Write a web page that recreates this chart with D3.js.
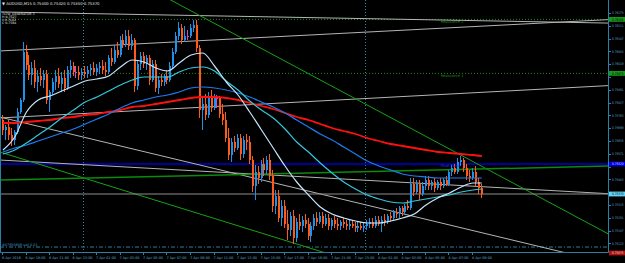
<!DOCTYPE html>
<html lang="en">
<head>
<meta charset="UTF-8">
<title>AUDUSD,M15</title>
<script src="https://cdn.jsdelivr.net/npm/d3@7"></script>
<style>
    * { margin:0; padding:0; }
    body { background:#000; }
    svg { display:block; }
    text { font-family: "DejaVu Sans", sans-serif; }
</style>
</head>
<body>
<script>
    // M15 bars, bar 0 = 6 Apr 2016 17:00
    var open = [
        0.75740,0.75690,0.75705,0.75665,0.75640,0.75680,0.75780,0.75840,0.76080,0.76015,
        0.75965,0.76000,0.75930,0.75960,0.75940,0.75970,0.75840,0.75880,0.75930,0.75960,
        0.75920,0.75950,0.75900,0.75990,0.76010,0.75980,0.75980,0.75965,0.75980,0.75970,
        0.75990,0.76000,0.75980,0.76000,0.76010,0.75990,0.75980,0.76050,0.76030,0.76090,
        0.76065,0.76140,0.76115,0.76160,0.76110,0.76140,0.75910,0.76020,0.76060,0.76020,
        0.76050,0.75940,0.76020,0.75900,0.75940,0.75930,0.75960,0.75940,0.76010,0.76080,
        0.76160,0.76200,0.76140,0.76160,0.76160,0.76200,0.76215,0.76100,0.75790,0.75820,
        0.75765,0.75860,0.75800,0.75850,0.75850,0.75770,0.75740,0.75650,0.75565,0.75630,
        0.75600,0.75650,0.75570,0.75640,0.75630,0.75540,0.75410,0.75480,0.75450,0.75520,
        0.75490,0.75540,0.75460,0.75310,0.75360,0.75250,0.75310,0.75220,0.75190,0.75260,
        0.75150,0.75230,0.75210,0.75240,0.75220,0.75160,0.75210,0.75250,0.75230,0.75260,
        0.75220,0.75250,0.75210,0.75240,0.75220,0.75210,0.75230,0.75220,0.75210,0.75220,
        0.75210,0.75200,0.75210,0.75200,0.75210,0.75220,0.75230,0.75210,0.75240,0.75220,
        0.75240,0.75230,0.75260,0.75250,0.75280,0.75270,0.75300,0.75280,0.75310,0.75300,
        0.75420,0.75380,0.75420,0.75370,0.75410,0.75440,0.75410,0.75430,0.75400,0.75430,
        0.75410,0.75440,0.75420,0.75480,0.75500,0.75480,0.75530,0.75540,0.75500,0.75460,
        0.75450,0.75480,0.75430,0.75400];
    var high = [
        0.75765,0.75715,0.75740,0.75700,0.75690,0.75800,0.75850,0.76130,0.76115,0.76065,
        0.76030,0.76040,0.75990,0.76000,0.75990,0.75990,0.75890,0.75950,0.75990,0.76000,
        0.75980,0.75990,0.76010,0.76040,0.76030,0.76010,0.76010,0.76000,0.76010,0.76010,
        0.76020,0.76030,0.76020,0.76030,0.76040,0.76030,0.76065,0.76100,0.76115,0.76130,
        0.76160,0.76170,0.76190,0.76190,0.76170,0.76150,0.76040,0.76080,0.76080,0.76065,
        0.76065,0.76040,0.76040,0.75960,0.75970,0.75970,0.75990,0.76030,0.76100,0.76180,
        0.76230,0.76220,0.76210,0.76190,0.76220,0.76240,0.76240,0.76115,0.75860,0.75870,
        0.75880,0.75890,0.75870,0.75865,0.75860,0.75820,0.75780,0.75700,0.75650,0.75660,
        0.75670,0.75670,0.75660,0.75670,0.75660,0.75560,0.75515,0.75510,0.75540,0.75550,
        0.75560,0.75570,0.75490,0.75390,0.75390,0.75340,0.75340,0.75290,0.75280,0.75290,
        0.75250,0.75270,0.75260,0.75270,0.75250,0.75230,0.75270,0.75280,0.75280,0.75280,
        0.75270,0.75270,0.75250,0.75260,0.75250,0.75240,0.75250,0.75240,0.75240,0.75240,
        0.75230,0.75230,0.75230,0.75230,0.75240,0.75250,0.75250,0.75260,0.75260,0.75260,
        0.75270,0.75270,0.75280,0.75290,0.75300,0.75310,0.75310,0.75320,0.75340,0.75450,
        0.75450,0.75440,0.75440,0.75430,0.75460,0.75460,0.75440,0.75450,0.75440,0.75450,
        0.75450,0.75460,0.75490,0.75515,0.75520,0.75550,0.75560,0.75550,0.75520,0.75490,
        0.75500,0.75510,0.75450,0.75420];
    var low = [
        0.75665,0.75640,0.75640,0.75610,0.75615,0.75670,0.75770,0.75830,0.75990,0.75940,
        0.75915,0.75900,0.75880,0.75910,0.75900,0.75820,0.75780,0.75865,0.75890,0.75900,
        0.75880,0.75880,0.75890,0.75950,0.75960,0.75950,0.75940,0.75940,0.75950,0.75950,
        0.75960,0.75965,0.75960,0.75970,0.75970,0.75960,0.75970,0.76010,0.76020,0.76050,
        0.76055,0.76100,0.76105,0.76090,0.76090,0.75880,0.75890,0.75990,0.76000,0.75990,
        0.75915,0.75930,0.75880,0.75870,0.75910,0.75910,0.75920,0.75930,0.76000,0.76070,
        0.76140,0.76120,0.76130,0.76140,0.76150,0.76180,0.76080,0.75750,0.75690,0.75740,
        0.75750,0.75780,0.75790,0.75800,0.75750,0.75715,0.75630,0.75540,0.75530,0.75580,
        0.75590,0.75540,0.75550,0.75590,0.75520,0.75380,0.75340,0.75420,0.75430,0.75460,
        0.75470,0.75440,0.75280,0.75270,0.75230,0.75210,0.75200,0.75140,0.75160,0.75120,
        0.75130,0.75190,0.75180,0.75200,0.75140,0.75130,0.75190,0.75210,0.75220,0.75200,
        0.75210,0.75190,0.75190,0.75200,0.75190,0.75190,0.75200,0.75190,0.75190,0.75200,
        0.75180,0.75180,0.75190,0.75180,0.75190,0.75200,0.75200,0.75200,0.75210,0.75180,
        0.75210,0.75220,0.75230,0.75240,0.75250,0.75250,0.75260,0.75270,0.75290,0.75290,
        0.75360,0.75370,0.75340,0.75360,0.75390,0.75390,0.75390,0.75380,0.75390,0.75390,
        0.75400,0.75410,0.75410,0.75460,0.75470,0.75470,0.75510,0.75480,0.75440,0.75430,
        0.75440,0.75410,0.75370,0.75350];
    var close = [
        0.75690,0.75705,0.75665,0.75640,0.75680,0.75780,0.75840,0.76080,0.76015,0.75965,
        0.76000,0.75930,0.75960,0.75940,0.75970,0.75840,0.75880,0.75930,0.75960,0.75920,
        0.75950,0.75900,0.75990,0.76010,0.75980,0.75980,0.75965,0.75980,0.75970,0.75990,
        0.76000,0.75980,0.76000,0.76010,0.75990,0.75980,0.76050,0.76030,0.76090,0.76065,
        0.76140,0.76115,0.76160,0.76110,0.76140,0.75910,0.76020,0.76060,0.76020,0.76050,
        0.75940,0.76020,0.75900,0.75940,0.75930,0.75960,0.75940,0.76010,0.76080,0.76160,
        0.76200,0.76140,0.76160,0.76160,0.76200,0.76215,0.76100,0.75790,0.75820,0.75765,
        0.75860,0.75800,0.75850,0.75850,0.75770,0.75740,0.75650,0.75565,0.75630,0.75600,
        0.75650,0.75570,0.75640,0.75630,0.75540,0.75410,0.75480,0.75450,0.75520,0.75490,
        0.75540,0.75460,0.75310,0.75360,0.75250,0.75310,0.75220,0.75190,0.75260,0.75150,
        0.75230,0.75210,0.75240,0.75220,0.75160,0.75210,0.75250,0.75230,0.75260,0.75220,
        0.75250,0.75210,0.75240,0.75220,0.75210,0.75230,0.75220,0.75210,0.75220,0.75210,
        0.75200,0.75210,0.75200,0.75210,0.75220,0.75230,0.75210,0.75240,0.75220,0.75240,
        0.75230,0.75260,0.75250,0.75280,0.75270,0.75300,0.75280,0.75310,0.75300,0.75420,
        0.75380,0.75420,0.75370,0.75410,0.75440,0.75410,0.75430,0.75400,0.75430,0.75410,
        0.75440,0.75420,0.75480,0.75500,0.75480,0.75530,0.75540,0.75500,0.75460,0.75450,
        0.75480,0.75430,0.75400,0.75370];

    // moving averages, read every 4th bar (0,4,...,160) plus the last bar
    var maBars = [0,4,8,12,16,20,24,28,32,36,40,44,48,52,56,60,64,68,72,76,80,84,88,92,96,100,
                  104,108,112,116,120,124,128,132,136,140,144,148,152,156,160,163];
    var maFast = [0.75590,0.75655,0.75780,0.75840,0.75860,0.75885,0.75910,0.75935,0.75945,0.75960,
                  0.76005,0.76040,0.76030,0.76000,0.75985,0.76025,0.76065,0.76075,0.76010,0.75930,
                  0.75865,0.75780,0.75690,0.75600,0.75510,0.75430,0.75365,0.75305,0.75270,0.75250,
                  0.75235,0.75225,0.75225,0.75235,0.75250,0.75270,0.75315,0.75350,0.75375,0.75405,
                  0.75425,0.75425];
    var maMid = [0.75570,0.75590,0.75625,0.75665,0.75705,0.75750,0.75790,0.75830,0.75855,0.75885,
                 0.75915,0.75940,0.75955,0.75955,0.75955,0.75980,0.76000,0.76005,0.75985,0.75935,
                 0.75890,0.75835,0.75790,0.75750,0.75695,0.75630,0.75580,0.75525,0.75475,0.75430,
                 0.75395,0.75365,0.75345,0.75330,0.75325,0.75335,0.75345,0.75355,0.75365,0.75380,
                 0.75390,0.75395];
    var maSlow = [0.75580,0.75600,0.75615,0.75635,0.75655,0.75675,0.75695,0.75720,0.75745,0.75770,
                  0.75800,0.75825,0.75840,0.75855,0.75865,0.75880,0.75900,0.75905,0.75900,0.75890,
                  0.75875,0.75855,0.75830,0.75805,0.75775,0.75740,0.75705,0.75670,0.75640,0.75605,
                  0.75570,0.75535,0.75510,0.75490,0.75470,0.75460,0.75455,0.75450,0.75450,0.75450,
                  0.75450,0.75450];
    var maLong = [0.75725,0.75725,0.75730,0.75735,0.75740,0.75750,0.75755,0.75765,0.75770,0.75780,
                  0.75790,0.75805,0.75810,0.75820,0.75830,0.75840,0.75850,0.75855,0.75855,0.75850,
                  0.75840,0.75825,0.75810,0.75795,0.75775,0.75755,0.75740,0.75720,0.75700,0.75685,
                  0.75670,0.75650,0.75635,0.75620,0.75610,0.75600,0.75590,0.75580,0.75575,0.75570,
                  0.75565,0.75560];

    // trend lines: [bar1, price1, bar2, price2]
    var greyLines = [
        [0,0.76086,160,0.76207],
        [0,0.76280,160,0.76237],
        [0,0.75751,160,0.75876],
        [0,0.75751,160,0.75187],
        [0,0.75539,160,0.75409]];
    var greenLines = [
        [60,0.76317,160,0.75532],
        [0,0.75575,100,0.75120]];
    var supportLine = [0,0.75440,160,0.75494];

    var levelNames = ["Resistance 2","Resistance 1","Pivot Point"];
    var levelPrices = [0.76243,0.75973,0.75520];
    var orderPrice = 0.75105, stopPrice = 0.75075;
    var orderText = "#47950646 sell 0.01";

    var priceTicks = [0.76275,0.76211,0.76147,0.76083,0.76019,0.75955,0.75891,0.75827,0.75763,0.75699,
                      0.75635,0.75571,0.75507,0.75443,0.75379,0.75315,0.75251,0.75187,0.75123];
    var timeLabels = ["6 Apr 2016","6 Apr 19:00","6 Apr 21:00","6 Apr 23:00","7 Apr 01:00","7 Apr 03:00",
                      "7 Apr 05:00","7 Apr 07:00","7 Apr 09:00","7 Apr 11:00","7 Apr 13:00","7 Apr 15:00",
                      "7 Apr 17:00","7 Apr 19:00","7 Apr 21:00","7 Apr 23:00","8 Apr 01:00","8 Apr 03:00",
                      "8 Apr 05:00","8 Apr 07:00","8 Apr 09:00"];
    var labelEvery = 8;
    var dayStarts = [28,124];

    var W = 625, H = 263, plotR = 608, plotB = 252;
    var fmt = d3.format(".5f");

    var x = d3.scaleLinear().domain([0,160]).range([3,473]);
    var y = d3.scaleLinear().domain([0.76340,0.74990]).range([0,270]);

    var svg = d3.select("body").append("svg")
        .attr("width", W).attr("height", H)
        .style("background", "#000");

    svg.append("defs").append("clipPath").attr("id","plot")
        .append("rect").attr("x",0).attr("y",0).attr("width",plotR).attr("height",plotB);

    var g = svg.append("g").attr("clip-path","url(#plot)");

    // day separators
    g.selectAll("line.sep").data(dayStarts).enter().append("line")
        .attr("x1", function(d){return Math.round(x(d)) - 1.5})
        .attr("x2", function(d){return Math.round(x(d)) - 1.5})
        .attr("y1", 0).attr("y2", plotB)
        .attr("stroke", "#2a84a8").attr("stroke-dasharray", "1,2")

    // horizontal levels
    g.selectAll("line.lvl").data(levelPrices).enter().append("line")
        .attr("x1", 0).attr("x2", plotR)
        .attr("y1", function(d){return y(d)}).attr("y2", function(d){return y(d)})
        .attr("stroke", function(d,i){return i < 2 ? "#178c17" : "#0000d2"})
        .attr("stroke-width", function(d,i){return i < 2 ? 1 : 1.6})
        .attr("stroke-dasharray", function(d,i){return i < 2 ? "1,2" : null})

    g.append("line")
        .attr("x1", 0).attr("x2", plotR)
        .attr("y1", y(orderPrice)).attr("y2", y(orderPrice))
        .attr("stroke", "#2a7f9f").attr("stroke-dasharray", "4,2,1,2")

    // trend lines, extended over the whole chart
    function extend(t) {
        var slope = (t[3] - t[1]) / (t[2] - t[0]);
        return [[-5, t[1] + slope * (-5 - t[0])], [215, t[1] + slope * (215 - t[0])]];
    }
    var seg = d3.line().x(function(d){return x(d[0])}).y(function(d){return y(d[1])});

    g.selectAll("path.grey").data(greyLines).enter().append("path")
        .attr("d", function(d){return seg(extend(d))})
        .attr("fill", "none").attr("stroke", "#b4b4b4").attr("stroke-width", 1)
    g.selectAll("path.green").data(greenLines).enter().append("path")
        .attr("d", function(d){return seg(extend(d))})
        .attr("fill", "none").attr("stroke", "#16a316").attr("stroke-width", 1)
    g.append("path")
        .attr("d", seg(extend(supportLine)))
        .attr("fill", "none").attr("stroke", "#0b8a0b").attr("stroke-width", 1.5)

    // bid line
    g.append("line")
        .attr("x1", 0).attr("x2", plotR)
        .attr("y1", y(close[close.length-1])).attr("y2", y(close[close.length-1]))
        .attr("stroke", "#8e8e8e")

    // candles
    var bars = open.map(function(o, i) {
        return {i: i, o: o, h: high[i], l: low[i], c: close[i]};
    });
    function barColor(d) {
        if (d.c > d.o) return "#1e92ea";
        if (d.c < d.o) return "#ff5a18";
        return "#d048d0";
    }
    var cg = g.append("g");
    cg.selectAll("line.wick").data(bars).enter().append("line")
        .attr("x1", function(d){return Math.round(x(d.i)) - 0.5})
        .attr("x2", function(d){return Math.round(x(d.i)) - 0.5})
        .attr("y1", function(d){return y(d.h)})
        .attr("y2", function(d){return y(d.l)})
        .attr("stroke", barColor)
    cg.selectAll("rect.body").data(bars).enter().append("rect")
        .attr("x", function(d){return Math.round(x(d.i)) - 1})
        .attr("width", 2)
        .attr("y", function(d){return y(Math.max(d.o, d.c))})
        .attr("height", function(d){return Math.max(1, Math.abs(y(d.o) - y(d.c)))})
        .attr("fill", barColor)

    // moving averages
    var maLine = d3.line()
        .x(function(d, i){return x(maBars[i])})
        .y(function(d){return y(d)})
        .curve(d3.curveMonotoneX);
    [[maLong, "#ff1010", 1.8], [maSlow, "#1e7cf2", 1.2], [maMid, "#34c8dc", 1.2], [maFast, "#c4e6ff", 1.2]]
        .forEach(function(m) {
            g.append("path").attr("d", maLine(m[0]))
                .attr("fill", "none").attr("stroke", m[1]).attr("stroke-width", m[2])
        });

    // level captions
    g.selectAll("text.lvl").data(levelNames).enter().append("text")
        .attr("x", x(149))
        .attr("y", function(d,i){return y(levelPrices[i]) + (i < 2 ? 4 : 2.5)})
        .attr("font-size", 3.6)
        .attr("fill", function(d,i){return i < 2 ? "#1c8c1c" : "#1a3cff"})
        .text(function(d){return d})

    g.append("text").attr("x", 2).attr("y", y(orderPrice) - 1.5)
        .attr("font-size", 3.4).attr("fill", "#3a9cc0").text(orderText)

    // frame
    svg.append("path")
        .attr("d", "M0.5,0V" + (plotB + 0.5) + "H" + (plotR + 0.5) + "V0")
        .attr("fill", "none").attr("stroke", "#2a80a6")

    // highlighted prices on the axis
    var marks = [
        [levelPrices[0], "#18981a", "#000"],
        [levelPrices[1], "#18981a", "#000"],
        [levelPrices[2], "#0000e6", "#dde"],
        [close[close.length-1], "#62d4f4", "#000"],
        [stopPrice, "#b01212", "#ddd"]];

    // price axis (labels hidden under a highlighted price are skipped)
    var freeTicks = priceTicks.filter(function(p) {
        return marks.every(function(m){return Math.abs(y(m[0]) - y(p)) > 4.6});
    });
    svg.selectAll("line.pt").data(priceTicks).enter().append("line")
        .attr("x1", plotR + 0.5).attr("x2", plotR + 3)
        .attr("y1", function(d){return Math.round(y(d)) + 0.5})
        .attr("y2", function(d){return Math.round(y(d)) + 0.5})
        .attr("stroke", "#2a80a6")
    svg.selectAll("text.pt").data(freeTicks).enter().append("text")
        .attr("x", plotR + 4).attr("y", function(d){return y(d) + 1.2})
        .attr("font-size", 3.4).attr("fill", "#5aaad2")
        .attr("textLength", 11.5).attr("lengthAdjust", "spacingAndGlyphs")
        .text(function(d){return fmt(d)})

    marks.forEach(function(m) {
        svg.append("rect").attr("x", plotR + 1).attr("y", y(m[0]) - 2.4)
            .attr("width", W - plotR - 1).attr("height", 4.8).attr("fill", m[1])
        svg.append("text").attr("x", plotR + 4).attr("y", y(m[0]) + 1.2)
            .attr("font-size", 3.4).attr("fill", m[2])
            .attr("textLength", 11.5).attr("lengthAdjust", "spacingAndGlyphs")
            .text(fmt(m[0]))
    });

    // time axis
    svg.selectAll("line.tt").data(timeLabels).enter().append("line")
        .attr("x1", function(d,i){return Math.round(x(i * labelEvery)) - 0.5})
        .attr("x2", function(d,i){return Math.round(x(i * labelEvery)) - 0.5})
        .attr("y1", plotB + 0.5).attr("y2", plotB + 3)
        .attr("stroke", "#2a80a6")
    svg.selectAll("text.tt").data(timeLabels).enter().append("text")
        .attr("x", function(d,i){return x(i * labelEvery) - 1})
        .attr("y", plotB + 7)
        .attr("font-size", 3.4).attr("fill", "#5aaad2")
        .text(function(d){return d})

    // info in the top left corner
    var last = bars[bars.length-1];
    var info = [
        "\u25BC AUDUSD,M15  " + [last.o, last.h, last.l, last.c].map(fmt).join(" "),
        "TLTW_GENERATOR 3", "H 0.7627", "L 0.7622", "C 0.7584"];
    svg.selectAll("text.info").data(info).enter().append("text")
        .attr("x", 2).attr("y", function(d,i){return i === 0 ? 5 : 11.5 + i * 3})
        .attr("font-size", function(d,i){return i === 0 ? 3.8 : 3.2})
        .attr("fill", "#e6e6e6")
        .text(function(d){return d})
</script>
</body>
</html>
